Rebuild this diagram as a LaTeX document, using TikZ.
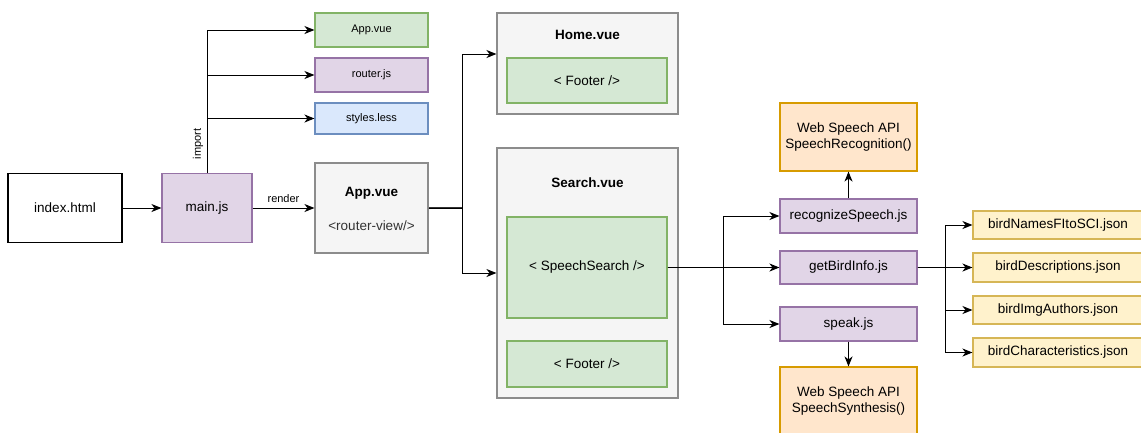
\documentclass[tikz,border=0pt]{standalone}
\usepackage{fontspec}
\setmainfont{Liberation Sans}
\usetikzlibrary{arrows.meta,calc}

\definecolor{greenF}{HTML}{D5E8D4}\definecolor{greenD}{HTML}{82B366}
\definecolor{purpF}{HTML}{E1D5E7}\definecolor{purpD}{HTML}{9673A6}
\definecolor{blueF}{HTML}{DAE8FC}\definecolor{blueD}{HTML}{6C8EBF}
\definecolor{grayF}{HTML}{F5F5F5}\definecolor{grayD}{HTML}{8C8C8C}
\definecolor{orgF}{HTML}{FFE6CC}\definecolor{orgD}{HTML}{D79B00}
\definecolor{yelF}{HTML}{FFF2CC}\definecolor{yelD}{HTML}{D6B656}
\definecolor{txtgray}{HTML}{333333}

\tikzset{
  box/.style={draw, line width=1.1pt, inner sep=0pt, align=center,
    font=\fontsize{13.5}{16.5}\selectfont},
  small/.style={box, font=\fontsize{11}{13}\selectfont},
  plain/.style={box, draw=black, fill=white},
  greenbox/.style={fill=greenF, draw=greenD},
  purplebox/.style={fill=purpF, draw=purpD},
  bluebox/.style={fill=blueF, draw=blueD},
  graybox/.style={fill=grayF, draw=grayD, text=txtgray},
  orangebox/.style={fill=orgF, draw=orgD},
  yellowbox/.style={fill=yelF, draw=yelD},
  title/.style={font=\fontsize{13.5}{16}\selectfont\bfseries, text=black, inner sep=0pt},
  arr/.style={draw=black, line width=1pt, -{Stealth[length=10pt,width=8pt,inset=3pt]}},
  lbl/.style={font=\fontsize{11}{13}\selectfont, inner sep=0pt},
}

\begin{document}
\begin{tikzpicture}[x=1pt, y=-1pt]
\useasboundingbox (0,0) rectangle (1141,432);
\clip (0,0) rectangle (1141,432);

% entry and bootstrap
\node[plain, minimum width=114pt, minimum height=69pt] (index) at (65,208) {index.html};
\node[box, purplebox, minimum width=90pt, minimum height=69pt] (main) at (207,208) {main.js};

% imported modules
\node[small, greenbox, minimum width=113pt, minimum height=34pt] (appsmall) at (371.5,30) {App.vue};
\node[small, purplebox, minimum width=113pt, minimum height=34pt] (router) at (371.5,75) {router.js};
\node[small, bluebox, minimum width=113pt, minimum height=31pt] (styles) at (371.5,118.5) {styles.less};

% root component
\node[box, graybox, minimum width=113pt, minimum height=90pt] (appvue) at (371.5,208) {};
\node[title] (apptitle) at (371.5,193) {App.vue};
\node[font=\fontsize{13.5}{16}\selectfont, text=txtgray, inner sep=0pt] (routerview) at (371.5,226) {<router-view/>};

% views
\node[box, graybox, minimum width=181pt, minimum height=101pt] (home) at (587.5,63.5) {};
\node[title] (hometitle) at (587.5,35) {Home.vue};
\node[box, greenbox, minimum width=160pt, minimum height=45pt] (homefooter) at (587,80.5) {< Footer />};

\node[box, graybox, minimum width=181pt, minimum height=250pt] (search) at (587.5,273) {};
\node[title] (searchtitle) at (587.5,183) {Search.vue};
\node[box, greenbox, minimum width=160pt, minimum height=101pt] (speechsearch) at (587,267.5) {< SpeechSearch />};
\node[box, greenbox, minimum width=160pt, minimum height=46pt] (searchfooter) at (587,364) {< Footer />};

% speech modules
\node[box, orangebox, minimum width=137pt, minimum height=68pt] (recapi) at (848.5,137) {Web Speech API\\SpeechRecognition()};
\node[box, purplebox, minimum width=137pt, minimum height=34pt] (recog) at (848.5,216) {recognizeSpeech.js};
\node[box, purplebox, minimum width=137pt, minimum height=33pt] (getbird) at (848.5,267.5) {getBirdInfo.js};
\node[box, purplebox, minimum width=137pt, minimum height=34pt] (speak) at (848.5,324) {speak.js};
\node[box, orangebox, minimum width=137pt, minimum height=68pt] (synthapi) at (848.5,401) {Web Speech API\\SpeechSynthesis()};

% data files
\node[box, yellowbox, minimum width=170pt, minimum height=28pt] (jnames) at (1058,225) {birdNamesFItoSCI.json};
\node[box, yellowbox, minimum width=170pt, minimum height=29pt] (jdesc) at (1058,267.5) {birdDescriptions.json};
\node[box, yellowbox, minimum width=170pt, minimum height=28pt] (jimg) at (1058,310) {birdImgAuthors.json};
\node[box, yellowbox, minimum width=170pt, minimum height=29pt] (jchar) at (1058,352.5) {birdCharacteristics.json};

% junction points
\coordinate (s1) at (462,208);
\coordinate (s2) at (723,267.5);
\coordinate (s3) at (945,267.5);

% connectors
\draw[arr] (index) -- (main);
\draw[arr] (main) -- node[lbl, above=5pt] (render) {render} (appvue);
\draw[arr] (main.north) |- (appsmall.west);
\draw[arr] (main.north) |- (router.west);
\draw[arr] (main.north) |- (styles.west);
\node[lbl, rotate=90] (import) at (198,144) {import};

% both routes share the trunk out of App.vue
\draw[line width=1.8pt, draw=black!80] (appvue.east) -- (s1);
\draw[arr] (appvue.east) -- (s1) |- ([yshift=9.5pt]home.west);
\draw[arr] (appvue.east) -- (s1) |- (search.west);

\draw[arr] (speechsearch.east) -- (getbird.west);
\draw[arr] (speechsearch.east) -- (s2) |- (recog.west);
\draw[arr] (speechsearch.east) -- (s2) |- (speak.west);

\draw[arr] (recog.north) -- (recapi.south);
\draw[arr] (speak.south) -- (synthapi.north);

\draw[arr] (getbird.east) -- (s3) |- (jnames.west);
\draw[arr] (getbird.east) -- (jdesc.west);
\draw[arr] (getbird.east) -- (s3) |- (jimg.west);
\draw[arr] (getbird.east) -- (s3) |- (jchar.west);
\end{tikzpicture}
\end{document}
